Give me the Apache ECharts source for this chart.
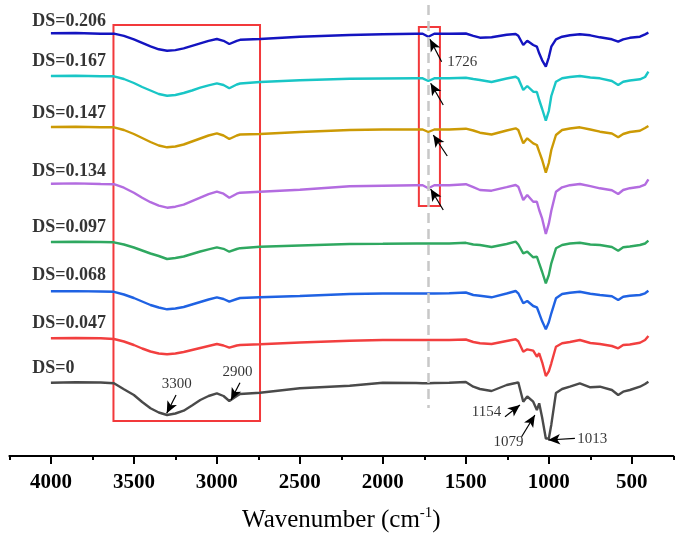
<!DOCTYPE html>
<html><head><meta charset="utf-8">
<script src="https://cdn.jsdelivr.net/npm/echarts@6/dist/echarts.min.js"></script>
<style>html,body{margin:0;padding:0;background:#fff}#c{width:687px;height:548px}</style>
</head><body><div id="c"></div>
<script>
// ---- data (wavenumber, relative transmittance a.u.) ----
const wavenumbers = [4000,3850,3700,3620,3560,3500,3450,3400,3350,3300,3250,3200,3150,3100,3050,3000,2960,2925,2880,2860,2740,2500,2200,2000,1800,1760,1726,1690,1600,1500,1455,1415,1345,1254,1200,1184,1154,1130,1094,1072,1058,1040,1018,1000,985,957,920,873,813,750,692,620,582,552,512,451,420,400];
const seriesNames = ['DS=0','DS=0.047','DS=0.068','DS=0.097','DS=0.134','DS=0.147','DS=0.167','DS=0.206'];
const baselines = [73.3,117.7,164.7,214,272.3,329,380,422.7];
const ds0   = [0,0.5,0.2,-0.6,-6.6,-12.3,-19.3,-25.6,-29.8,-32.3,-30.8,-28,-22.8,-17.3,-13.3,-10.6,-13.3,-18.3,-13.3,-11.3,-10,-5.6,-3,0,-0.3,-0.6,-0.6,-0.3,0,0.7,-4,-6.3,-8.3,-2.3,-0.3,0.4,-19,-13.8,-19,-27.3,-20.6,-35,-55.8,-55.8,-42,-10.3,-6.3,-4,-0.6,-4.6,-4,-7.3,-12.3,-9,-7.3,-4,-1.3,1];
const ds047 = [0,0.3,0,-0.7,-3.2,-6.7,-10.2,-13.2,-15.2,-16,-15.2,-13.7,-11.7,-9.7,-7.7,-5.7,-7.2,-9.4,-7.2,-6.7,-6,-4.2,-2.4,-1.7,-1.7,-1.7,-1.7,-1.7,-1.7,-1.2,-3.7,-5,-5.7,-2.7,-1,-3,-13.4,-11,-12.4,-18.4,-15,-24,-37.7,-33,-25,-8.4,-5,-3.7,-1.7,-4.7,-5.7,-7.7,-10,-6.7,-6.2,-4.4,-1.7,2.3];
const ds068 = [0,0.2,-0.2,-0.5,-3.2,-6.7,-10.2,-13.7,-16.2,-18,-17.2,-15.7,-13.2,-10.7,-8.2,-6,-7.7,-10.4,-7.7,-6.7,-6,-4.7,-2.7,-2.2,-2.2,-2.2,-2.2,-2.2,-2,-1.2,-3.7,-4.5,-6,-2.2,0.3,-2,-12,-9.7,-14.7,-16,-22,-30,-38,-31,-22,-7,-2.7,-1.5,-0.4,-2.5,-3.7,-5,-8.7,-5.4,-4.5,-3.7,-2,0.6];
const ds097 = [0,0.3,0,-0.3,-2.5,-5.5,-8.5,-11.5,-14,-17,-16,-14.5,-12,-9.5,-7.3,-5.3,-6.8,-9.7,-7,-6.2,-4.7,-3.5,-2,-1.8,-1.5,-1.5,-1.5,-1.5,-1.5,-0.8,-2.5,-3,-5,-2,0.3,-2.5,-11.3,-9.7,-15.3,-14.7,-21.3,-30,-41.3,-33,-21.3,-6.3,-3,-1.5,-0.7,-2.5,-3,-5,-8.7,-5.3,-4.5,-3,-1.5,1.3];
const ds134 = [0,0.3,-0.3,-0.5,-4,-9,-14,-18.5,-22,-24,-23,-21,-17.5,-14,-10.5,-8,-10,-14,-10,-9,-8,-6,-2.5,-2,-1.5,-1.5,-4.5,-1.5,-1.5,-0.5,-3.5,-6.3,-7,-3.5,-1.3,-3,-16.3,-11.3,-18,-18,-26.3,-35,-50.3,-40,-27,-8,-3.6,-1.5,-0.3,-2.5,-4.6,-6.5,-10.3,-6.3,-4.5,-3,-1,4.4];
const ds147 = [0,0.3,-0.2,-0.3,-3,-7,-11,-15,-18.5,-20.3,-19.5,-17.5,-14.5,-11.5,-8.5,-6.3,-8.5,-12,-8.5,-7.5,-7,-5,-3,-2.5,-2.5,-2.5,-5,-2.5,-2.5,-1.7,-3.5,-5.7,-7.5,-3.5,-1.3,-3,-16.3,-11.3,-16.3,-18,-24.7,-33,-45.7,-36,-23,-8,-3,-1.5,-0.3,-2.5,-4.7,-6.5,-10.3,-7,-5,-3.7,-1,1];
const ds167 = [0,0.3,-0.3,-0.3,-3,-7,-11,-14.5,-18,-19.7,-19,-17,-14.5,-11.7,-9.3,-7.3,-9,-12.3,-8.5,-7.5,-6,-4.3,-2.7,-2.5,-2.3,-2.3,-5,-2.3,-2.2,-1.7,-3,-4,-6,-2.5,-0.7,-2.5,-14,-10,-15.7,-16,-24,-33,-44.7,-35,-20,-5.7,-2.3,-1,0,-1.5,-2.3,-5,-9,-5.7,-4.5,-3.3,-1,4.3];
const ds206 = [0,0.3,-0.5,-0.3,-2.5,-6,-9.5,-13,-16,-17.4,-16.8,-15,-12.5,-10,-7.5,-5.7,-7.5,-10.7,-7.5,-6.5,-5.7,-3.5,-1.7,-1,-0.5,-0.5,-3.5,-0.5,-0.5,-0.2,-2.5,-4.4,-4,-1.5,-0.7,-2.5,-11.7,-7.4,-11.7,-13.4,-20,-27,-33.4,-24,-13.4,-6,-3.4,-2,-1,-2,-4,-6,-8.4,-6,-4.5,-3.4,-1,0.6];
const tickValues = [500,1000,1500,2000,2500,3000,3500,4000];
const peakLabels = ['3300','2900','1726','1154','1079','1013'];

// ---- styling / layout ----
const relData = [ds0,ds047,ds068,ds097,ds134,ds147,ds167,ds206];
const colors = ['#4a4a4a','#f23f3f','#1f62e3','#2fa860','#b36ce0','#cc9a05','#19c6c6','#1414c0'];
const SERIF = '"Liberation Serif","Times New Roman",serif';
const labelV = [87.7,132.7,181,228.7,284.3,342.7,394.3,434.3];
const peakPos = [[3242,72,'center'],[2876,84.3,'center'],[1612,394.3,'left'],[1376,43.7,'center'],[1243,14.3,'center'],[829,17,'left']];
const arrows = [
  [[3246,61],[3302,42.7]],
  [[2861,73.3],[2915,56]],
  [[1646,394.3],[1716,416.7]],
  [[1636,351],[1712,372.7]],
  [[1612,300],[1696,321]],
  [[1636,246],[1712,267]],
  [[1264,39.3],[1174,51]],
  [[1164,19.3],[1084,41]],
  [[843,17.7],[1004,16]]
];

const series = relData.map((rel,i)=>({
  type:'line', name:seriesNames[i],
  data: wavenumbers.map((w,j)=>[w, +(baselines[i]+rel[j]).toFixed(2)]),
  symbol:'none', showSymbol:false, silent:true,
  lineStyle:{color:colors[i], width:2.4}, itemStyle:{color:colors[i]}, z:3
}));

series[0].markLine = {
  silent:true, symbol:['none','arrow'], symbolSize:[8,12], precision:3,
  label:{show:false},
  lineStyle:{color:'#000', width:1.2, type:'solid'},
  data: [
    [{coord:[1726,451], symbol:'none', lineStyle:{color:'#c8c8c8', width:2.5, type:[10,6]}},{coord:[1726,48], symbol:'none'}]
  ].concat(arrows.map(a=>[{coord:a[0]},{coord:a[1]}]))
};
series[0].markArea = {
  silent:true, label:{show:false},
  itemStyle:{color:'rgba(0,0,0,0)', borderColor:'#f2393b', borderWidth:2},
  data:[
    [{coord:[3623,431]},{coord:[2740,35]}],
    [{coord:[1783,429]},{coord:[1656,250]}]
  ]
};

// text labels as a symbol-less scatter series
const textData = seriesNames.map((n,i)=>({
  value:[4112, labelV[i]], name:n,
  label:{fontSize:18, fontWeight:'bold', align:'left'}
})).concat(peakLabels.map((t,i)=>({
  value:[peakPos[i][0], peakPos[i][1]], name:t,
  label:{fontSize:15, fontWeight:'normal', align:peakPos[i][2]}
})));
series.push({
  type:'scatter', symbolSize:0, silent:true, data:textData, z:5,
  label:{show:true, position:'inside', formatter:'{b}', color:'#000', fontFamily:SERIF, verticalAlign:'middle'}
});

const chart = echarts.init(document.getElementById('c'), null, {renderer:'canvas'});
chart.setOption({
  animation:false,
  backgroundColor:'#fff',
  grid:{left:9.4, right:13.7, top:0, bottom:92, containLabel:false, outerBoundsMode:'none'},
  xAxis:[{
    type:'value', min:250, max:4250, interval:250, inverse:true, position:'bottom',
    axisLine:{show:true, onZero:false, lineStyle:{color:'#000', width:2}},
    axisTick:{show:true, length:4, lineStyle:{color:'#000', width:2}},
    splitLine:{show:false},
    axisLabel:{margin:16, color:'#000', fontSize:21, fontWeight:'bold', fontFamily:SERIF,
      formatter:v=> (v%500===0 ? String(v) : '')},
    name:'{a|Wavenumber (cm}{s|-1}{a|)}', nameLocation:'middle', nameGap:50,
    nameTextStyle:{color:'#000', fontFamily:SERIF,
      rich:{a:{fontSize:25, fontFamily:SERIF, color:'#000', lineHeight:28},
            s:{fontSize:15, fontFamily:SERIF, color:'#000', verticalAlign:'top', lineHeight:28}}}
  },{
    type:'value', min:250, max:4250, inverse:true, position:'bottom',
    axisLine:{show:false, onZero:false},
    axisTick:{show:true, length:8, customValues:tickValues, lineStyle:{color:'#000', width:2}},
    axisLabel:{show:false}, splitLine:{show:false}
  }],
  yAxis:{type:'value', min:0, max:456, show:false},
  series: series
});
</script></body></html>
